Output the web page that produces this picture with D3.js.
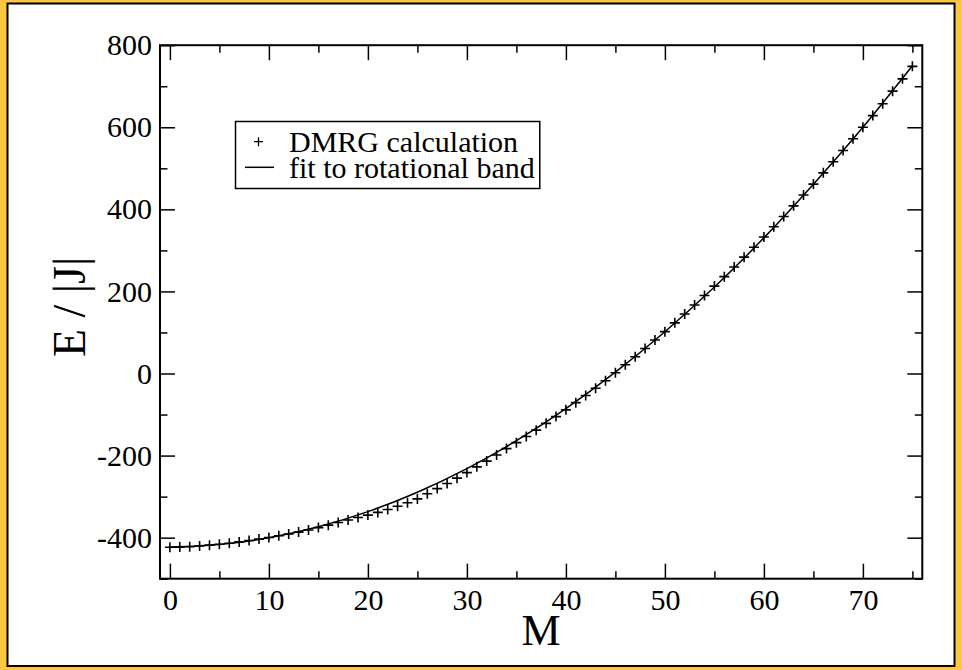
<!DOCTYPE html>
<html>
<head>
<meta charset="utf-8">
<script src="https://cdn.jsdelivr.net/npm/d3@7"></script>
<style>
  html, body { margin: 0; padding: 0; background: #ffc73e; }
  svg { display: block; }
  text { font-family: "Liberation Serif", "Times New Roman", serif; fill: #000; }
</style>
</head>
<body>
<div id="chart"></div>
<script>
// DMRG energies, one per M = 0, 1, 2, ... 75
var dmrgEnergy = [
  -423.5, -423.0, -422.0, -420.3, -418.2, -416.0, -413.5, -410.3, -406.8, -403.5,
  -399.5, -395.3, -391.0, -386.5, -381.3, -375.5, -369.5, -363.0, -357.0, -351.0,
  -345.0, -338.5, -331.5, -323.5, -315.0, -305.5, -293.0, -280.5, -268.0, -255.0,
  -241.5, -227.5, -213.5, -198.5, -183.0, -168.5, -153.5, -138.0, -121.5, -105.0,
  -88.5, -71.0, -53.5, -36.0, -17.5, 2.0, 21.5, 41.0, 61.0, 81.5,
  102.0, 123.5, 145.0, 167.0, 190.0, 213.0, 236.0, 259.5, 283.5, 307.5,
  332.5, 357.5, 382.5, 408.5, 435.0, 461.5, 489.0, 516.0, 543.5, 572.0,
  600.0, 628.5, 657.5, 688.0, 718.0, 748.5
];

// fit to rotational band, read at these M
var fitM = [0, 5, 10, 15, 20, 25, 30, 35, 40, 45, 50, 55, 60, 65, 70, 75];
var fitEnergy = [-423, -416.8, -400.4, -373.6, -336.6, -289.2, -231.6, -163.7,
                 -85.5, 3.2, 101.8, 210.7, 330.5, 461.2, 600, 750];

var xMajor = [0, 10, 20, 30, 40, 50, 60, 70];
var xMinor = [5, 15, 25, 35, 45, 55, 65, 75];
var yMajor = [-400, -200, 0, 200, 400, 600, 800];
var yMinor = [-500, -300, -100, 100, 300, 500, 700];

var legendLabels = ["DMRG calculation", "fit to rotational band"];

var W = 962, H = 670;

var svg = d3.select('#chart')
  .append('svg')
  .attr('width', W)
  .attr('height', H);

// orange window frame with white page inside
svg.append('rect')
  .attr('x', 0).attr('y', 0).attr('width', W).attr('height', H)
  .attr('fill', '#ffc73e');
svg.append('rect')
  .attr('x', 7.5).attr('y', 3.5).attr('width', W - 15).attr('height', H - 7.5)
  .attr('fill', '#fff')
  .attr('stroke', '#000')
  .attr('stroke-width', 2);

var x = d3.scaleLinear().domain([-1, 76]).range([160, 922.3]);
var y = d3.scaleLinear().domain([-500, 800]).range([578.7, 45.2]);

var pLeft = x.range()[0], pRight = x.range()[1];
var pTop = y.range()[1], pBottom = y.range()[0];

function styleAxis(g){
  g.attr('font-family', null);
  g.select('.domain').remove();
  g.selectAll('.tick line').attr('stroke', '#000').attr('stroke-width', 1.5);
  g.selectAll('text').attr('font-size', 30);
}
function plain(d){ return String(d); }

// bottom axis: major with labels, minor without
svg.append('g')
  .attr('transform', 'translate(0,' + pBottom + ')')
  .call(d3.axisBottom(x).tickValues(xMajor).tickSize(-15).tickPadding(10).tickFormat(plain))
  .call(styleAxis);
svg.append('g')
  .attr('transform', 'translate(0,' + pBottom + ')')
  .call(d3.axisBottom(x).tickValues(xMinor).tickSize(-7.5).tickFormat(''))
  .call(styleAxis);
// top axis mirror
svg.append('g')
  .attr('transform', 'translate(0,' + pTop + ')')
  .call(d3.axisTop(x).tickValues(xMajor).tickSize(-15).tickFormat(''))
  .call(styleAxis);
svg.append('g')
  .attr('transform', 'translate(0,' + pTop + ')')
  .call(d3.axisTop(x).tickValues(xMinor).tickSize(-7.5).tickFormat(''))
  .call(styleAxis);

// left axis
svg.append('g')
  .attr('transform', 'translate(' + pLeft + ',0)')
  .call(d3.axisLeft(y).tickValues(yMajor).tickSize(-15).tickPadding(8).tickFormat(plain))
  .call(styleAxis);
svg.append('g')
  .attr('transform', 'translate(' + pLeft + ',0)')
  .call(d3.axisLeft(y).tickValues(yMinor).tickSize(-7.5).tickFormat(''))
  .call(styleAxis);
// right axis mirror
svg.append('g')
  .attr('transform', 'translate(' + pRight + ',0)')
  .call(d3.axisRight(y).tickValues(yMajor).tickSize(-15).tickFormat(''))
  .call(styleAxis);
svg.append('g')
  .attr('transform', 'translate(' + pRight + ',0)')
  .call(d3.axisRight(y).tickValues(yMinor).tickSize(-7.5).tickFormat(''))
  .call(styleAxis);

// plot frame
svg.append('rect')
  .attr('x', pLeft).attr('y', pTop)
  .attr('width', pRight - pLeft).attr('height', pBottom - pTop)
  .attr('fill', 'none')
  .attr('stroke', '#000')
  .attr('stroke-width', 2);

// fit line
var fitData = fitM.map(function(m, i){ return [m, fitEnergy[i]]; });
svg.append('path')
  .datum(fitData)
  .attr('fill', 'none')
  .attr('stroke', '#000')
  .attr('stroke-width', 1.5)
  .attr('d', d3.line()
    .x(function(d){ return x(d[0]); })
    .y(function(d){ return y(d[1]); })
    .curve(d3.curveNatural));

// DMRG points as plus markers
var s = 5;
svg.append('g')
  .selectAll('path')
  .data(dmrgEnergy)
  .enter()
  .append('path')
  .attr('d', function(d, i){
    var cx = x(i), cy = y(d);
    return 'M' + (cx - s) + ',' + cy + 'H' + (cx + s) + 'M' + cx + ',' + (cy - s) + 'V' + (cy + s);
  })
  .attr('stroke', '#000')
  .attr('stroke-width', 1.6)
  .attr('fill', 'none');

// legend
var lg = svg.append('g');
var lgBox = lg.append('rect')
  .attr('x', 235.5).attr('y', 121.5)
  .attr('height', 67)
  .attr('fill', '#fff')
  .attr('stroke', '#000')
  .attr('stroke-width', 1.5);
lg.append('path')
  .attr('d', 'M254,141.7H263M258.5,137.2V146.2')
  .attr('stroke', '#000').attr('stroke-width', 1.3);
lg.append('line')
  .attr('x1', 245).attr('x2', 274).attr('y1', 167.3).attr('y2', 167.3)
  .attr('stroke', '#000').attr('stroke-width', 1.5);
var lgText = lg.selectAll('text.lg')
  .data(legendLabels)
  .enter()
  .append('text')
  .attr('class', 'lg')
  .attr('x', 289)
  .attr('y', function(d, i){ return 151.7 + i * 26.6; })
  .attr('font-size', 30)
  .text(function(d){ return d; });
var maxW = 0;
lgText.each(function(){ maxW = Math.max(maxW, this.getComputedTextLength()); });
lgBox.attr('width', 289 + maxW + 5 - 235.5);

// axis titles
svg.append('text')
  .attr('x', (pLeft + pRight) / 2)
  .attr('y', 645)
  .attr('text-anchor', 'middle')
  .attr('font-size', 44)
  .text('M');
svg.append('text')
  .attr('transform', 'translate(85,307) rotate(-90)')
  .attr('text-anchor', 'middle')
  .attr('font-size', 46)
  .text('E / |J|');
</script>
</body>
</html>
